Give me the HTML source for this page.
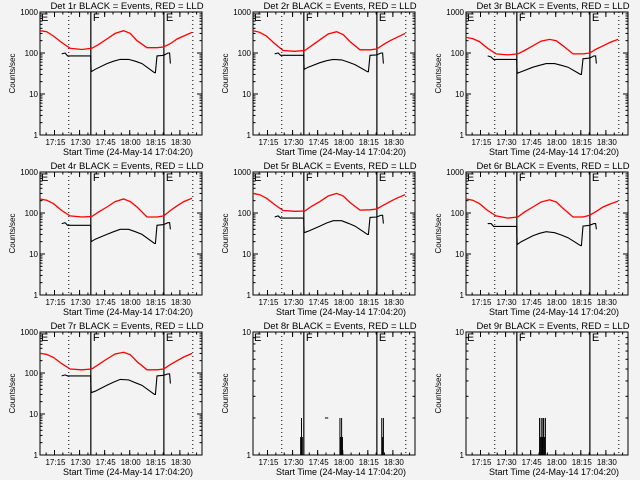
<!DOCTYPE html>
<html><head><meta charset="utf-8"><style>
html,body{margin:0;padding:0;background:#f3f3f3}
svg{display:block}
text{font-family:"Liberation Sans",sans-serif;fill:#000}
</style></head><body>
<svg id="c" width="640" height="480" viewBox="0 0 640 480">
<rect width="640" height="480" fill="#f3f3f3"/>
</svg>
<script>
// ---- data (minutes after 17:04:20) ----
const tickLabels = ["17:15","17:30","17:45","18:00","18:15","18:30"];
const tickTimes = [10.67,25.67,40.67,55.67,70.67,85.67];
const panelTitles = ["Det 1r","Det 2r","Det 3r","Det 4r","Det 5r","Det 6r","Det 7r","Det 8r","Det 9r"];
const dottedTimes = [19.2,93.4];
const solidTimes = [32.4,76.1];
const redT = [2,6,10,15,20,27,33,37,42,47,52,56,60,66,72,76,80,84,88,93];
const red1 = [350,330,260,180,130,122,130,160,220,300,350,300,200,135,135,140,170,220,260,320];
const red2 = [350,320,260,170,115,110,115,150,210,290,330,280,190,120,120,125,160,200,240,300];
const red3 = [240,225,190,130,95,90,95,115,150,195,215,200,150,95,95,100,125,150,180,215];
const red4 = [220,205,170,115,85,80,82,105,140,190,220,190,140,80,80,85,115,150,190,230];
const red5 = [300,280,230,160,115,110,112,145,190,260,300,260,180,118,120,125,155,190,230,280];
const red6 = [220,205,170,115,85,75,80,105,140,185,210,185,130,80,80,88,110,140,165,195];
const red7 = [300,285,240,170,125,120,125,160,220,290,320,280,190,120,120,125,160,200,245,300];
const blackT = [15,17,18.5,32.3,32.6,35,42,46,50,55,59,63,70.5,71,72,76,78.5,79.5,80];
const black1 = [95,100,85,85,35,40,55,63,70,70,63,55,33,33,85,88,100,100,55];
const black2 = [95,100,88,88,40,45,58,65,70,68,60,52,35,35,88,90,100,100,55];
const black3 = [85,80,70,70,32,35,45,50,55,55,50,45,30,30,72,75,85,85,55];
const black4 = [55,58,50,50,20,23,30,35,40,40,35,30,18,18,50,52,58,58,40];
const black5 = [80,85,75,75,33,36,48,57,65,65,56,48,30,30,78,80,88,88,55];
const black6 = [55,55,47,47,17,20,28,32,35,33,29,25,16,16,48,50,55,55,40];
const black7 = [85,90,85,85,33,36,50,60,70,68,58,50,30,30,85,88,95,95,55];
const spikeT8 = [30.5,31,31.5,54,54.5,55,55.5,79,79.5,80];
const spikeV8 = [1.4,2,1.4,2,1.4,2,1.4,2,1.4,2];
const dashT8 = [45,47];
const dashV8 = [2,2];
const spikeT9 = [46,46.5,47,47.5,48,48.5,49,49.5];
const spikeV9 = [2,1.4,2,1.4,2,2,1.4,2];

const reds=[red1,red2,red3,red4,red5,red6,red7];
const blacks=[black1,black2,black3,black4,black5,black6,black7];
const NS="http://www.w3.org/2000/svg";
const svg=document.getElementById('c');
function mk(tag,attrs,parent){const e=document.createElementNS(NS,tag);for(const k in attrs)e.setAttribute(k,attrs[k]);(parent||svg).appendChild(e);return e;}
const PL=40,PR=202,PT=12,PB=135,T0=2,T1=98.9;

for(let p=0;p<9;p++){
  const col=p%3,row=Math.floor(p/3),ox=col*213,oy=row*160;
  const g=mk('g',{transform:`translate(${ox},${oy})`});
  
  
  const decades=p<7?3:1;
  const x=t=>PL+(t-T0)/(T1-T0)*(PR-PL);
  const y=v=>PB-Math.log10(v)/decades*(PB-PT);
  const fr=mk('rect',{x:PL,y:PT,width:PR-PL,height:PB-PT,fill:'none',stroke:'#000','stroke-width':1},g);
  
  
  const title=mk('text',{x:(PL+PR)/2+6,y:9,'font-size':9.5,'text-anchor':'middle'},g);
  title.textContent=panelTitles[p]+" BLACK = Events, RED = LLD";
  
  
  for(let d=0;d<=decades;d++){
    const v=Math.pow(10,d),yy=y(v);
    mk('line',{x1:PL,x2:PL+5,y1:yy,y2:yy,stroke:'#000'},g);
    mk('line',{x1:PR,x2:PR-5,y1:yy,y2:yy,stroke:'#000'},g);
    const tl=mk('text',{x:PL-2,y:yy+3,'font-size':8,'text-anchor':'end'},g);
    tl.textContent=String(v);
    
    
    if(d<decades)for(let m=2;m<10;m++){const ym=y(v*m);
      mk('line',{x1:PL,x2:PL+2.5,y1:ym,y2:ym,stroke:'#000'},g);
      mk('line',{x1:PR,x2:PR-2.5,y1:ym,y2:ym,stroke:'#000'},g);}
  }
  for(let i=0;i<tickTimes.length;i++){
    const xx=x(tickTimes[i]);
    mk('line',{x1:xx,x2:xx,y1:PB,y2:PB-5,stroke:'#000'},g);
    mk('line',{x1:xx,x2:xx,y1:PT,y2:PT+5,stroke:'#000'},g);
    const tl=mk('text',{x:xx+1,y:145,'font-size':8,'text-anchor':'middle'},g);
    tl.textContent=tickLabels[i];
    
    
  }
  for(let t=tickTimes[0]-5;t<T1;t+=5){const xx=x(t);if(xx<PL)continue;
    mk('line',{x1:xx,x2:xx,y1:PB,y2:PB-2.5,stroke:'#000'},g);
    mk('line',{x1:xx,x2:xx,y1:PT,y2:PT+2.5,stroke:'#000'},g);}
  const xl=mk('text',{x:(PL+PR)/2+7,y:155,'font-size':9,'text-anchor':'middle'},g);
  xl.textContent="Start Time (24-May-14 17:04:20)";
  
  
  const yl=mk('text',{x:0,y:0,'font-size':8,'text-anchor':'middle',transform:`translate(15,${(PT+PB)/2}) rotate(-90)`},g);
  yl.textContent="Counts/sec";
  
  
  dottedTimes.forEach(t=>{const l=mk('line',{x1:x(t),x2:x(t),y1:PT,y2:PB,stroke:'#000','stroke-dasharray':'1,3'},g);
    });
  solidTimes.forEach(t=>{const l=mk('line',{x1:x(t),x2:x(t),y1:PT,y2:PB,stroke:'#000','stroke-width':1.2},g);
    });
  [["E",PL+1],["F",x(solidTimes[0])+2],["E",x(solidTimes[1])+2]].forEach(a=>{
    const tt=mk('text',{x:a[1],y:PT+9,'font-size':11},g);tt.textContent=a[0];
    });
  if(p<7){
    const rp=redT.map((t,i)=>x(t).toFixed(1)+','+y(reds[p][i]).toFixed(1)).join(' ');
    const r=mk('polyline',{points:rp,fill:'none',stroke:'#ff0000','stroke-width':1.3},g);
    
    const bp=blackT.map((t,i)=>x(t).toFixed(1)+','+y(blacks[p][i]).toFixed(1)).join(' ');
    const b=mk('polyline',{points:bp,fill:'none',stroke:'#000','stroke-width':1.1},g);
    
  } else {
    const st=p===7?spikeT8:spikeT9, sv=p===7?spikeV8:spikeV9;
    st.forEach((t,i)=>{const l=mk('line',{x1:x(t),x2:x(t),y1:PB,y2:y(sv[i]),stroke:'#000','stroke-width':1},g);
      });
    if(p===7){const l=mk('line',{x1:x(dashT8[0]),x2:x(dashT8[1]),y1:y(dashV8[0]),y2:y(dashV8[1]),stroke:'#000'},g);
      }
  }
}
</script>
</body></html>
